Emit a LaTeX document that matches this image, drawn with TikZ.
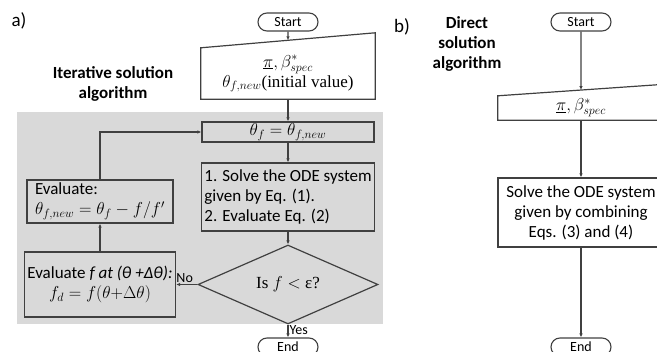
\documentclass[tikz,border=0pt]{standalone}
\usepackage{fontspec}
\setmainfont{Carlito}
\newfontfamily\serifrm{Liberation Serif}
\usetikzlibrary{shapes.geometric,arrows.meta,calc}
\definecolor{panelgray}{RGB}{217,217,217}
\definecolor{linegray}{RGB}{64,64,64}

\begin{document}
\begin{tikzpicture}[
  x=1pt, y=-1pt,
  font=\fontsize{17}{20}\selectfont,
  box/.style={rectangle, draw=linegray, line width=1.2pt, inner xsep=3pt, inner ysep=1pt},
  term/.style={rectangle, rounded corners=9pt, draw=linegray, line width=1.1pt, minimum width=60pt, minimum height=18pt, inner sep=0pt, font=\fontsize{14}{14}\selectfont},
  flow/.style={-{Latex[length=4pt,width=3.5pt]}, draw=linegray, line width=1.1pt},
  title/.style={font=\fontsize{17}{20}\selectfont\bfseries, align=center},
  tag/.style={font=\fontsize{14}{14}\selectfont, inner sep=1pt}
]
\useasboundingbox (0,0) rectangle (657,352);

% a) iterative loop
\node[font=\fontsize{19}{19}\selectfont] (lbl_a) at (19,21) {a)};
\node[title] (title_a) at (113,84) {Iterative solution\\algorithm};
\fill[panelgray] (17,112) rectangle (383,324);

\node[term] (start_a) at (288,22) {Start};
\node[minimum width=174pt, minimum height=51pt, inner sep=0pt, align=center] (input_a) at (288,73.5)
  {$\underline{\pi}, \beta^{*}_{spec}$\\$\theta_{f,new}${\serifrm(initial value)}};
\draw[linegray, line width=1.2pt] (input_a.south west) -- (input_a.south east)
  -- ([yshift=15pt]input_a.north east) -- (input_a.north west) -- cycle;
\coordinate (input_a_top) at ($(input_a.north west)!0.5!([yshift=15pt]input_a.north east)$);

\node[box, fill=panelgray, minimum width=172pt, minimum height=20pt] (theta) at (288,132) {$\theta_f = \theta_{f,new}$};
\node[box, fill=panelgray, minimum width=173pt, minimum height=68pt, align=left] (solve_a) at (288,197)
  {1. Solve the ODE system\\given by Eq. (1).\\2. Evaluate Eq. (2)};
\node[diamond, draw=linegray, line width=1.2pt, fill=panelgray, minimum width=180pt, minimum height=75pt, inner sep=0pt] (check) at (288,284.5)
  {{\serifrm Is $f <$ ε?}};
\node[box, fill=panelgray, minimum width=146pt, minimum height=65pt, align=center] (fa) at (100,284.5)
  {Evaluate \textit{f at (θ +Δθ):}\\$f_d = f(\theta{+}\Delta\theta)$};
\node[box, fill=panelgray, minimum width=146pt, minimum height=43pt, align=left] (eval) at (100,201.5)
  {Evaluate:\\$\theta_{f,new} = \theta_f - f/f'$};
\node[term] (end_a) at (288,347) {End};

\draw[flow] (start_a) -- (input_a_top);
\draw[flow] (input_a) -- (theta);
\draw[flow] (theta) -- (solve_a);
\draw[flow] (solve_a) -- (check);
\draw[flow] (check) -- node[tag, right, pos=0.45] (yes) {Yes} (end_a);
\draw[flow] (check) -- node[tag, above, pos=0.6] (no) {No} (fa);
\draw[flow] (fa) -- (eval);
\draw[flow] (eval.north) |- (theta.west);

% b) direct
\node[font=\fontsize{19}{19}\selectfont] (lbl_b) at (402,27) {b)};
\node[title] (title_b) at (467,44) {Direct\\solution\\algorithm};

\node[term] (start_b) at (581,22) {Start};
\node[minimum width=166pt, minimum height=24pt, inner sep=0pt] (input_b) at (581,108) {$\underline{\pi}, \beta^{*}_{spec}$};
\draw[linegray, line width=1.2pt] (input_b.south west) -- (input_b.south east)
  -- ([yshift=11.5pt]input_b.north east) -- (input_b.north west) -- cycle;
\coordinate (input_b_top) at ($(input_b.north west)!0.5!([yshift=11.5pt]input_b.north east)$);

\node[box, fill=white, minimum width=166pt, minimum height=69pt, align=center] (solve_b) at (581,212.5)
  {Solve the ODE system\\given by combining\\Eqs. (3) and (4)};
\node[term] (end_b) at (581,347) {End};

\draw[flow] (start_b) -- (input_b_top);
\draw[flow] (input_b) -- (solve_b);
\draw[flow] (solve_b) -- (end_b);
\end{tikzpicture}
\end{document}
